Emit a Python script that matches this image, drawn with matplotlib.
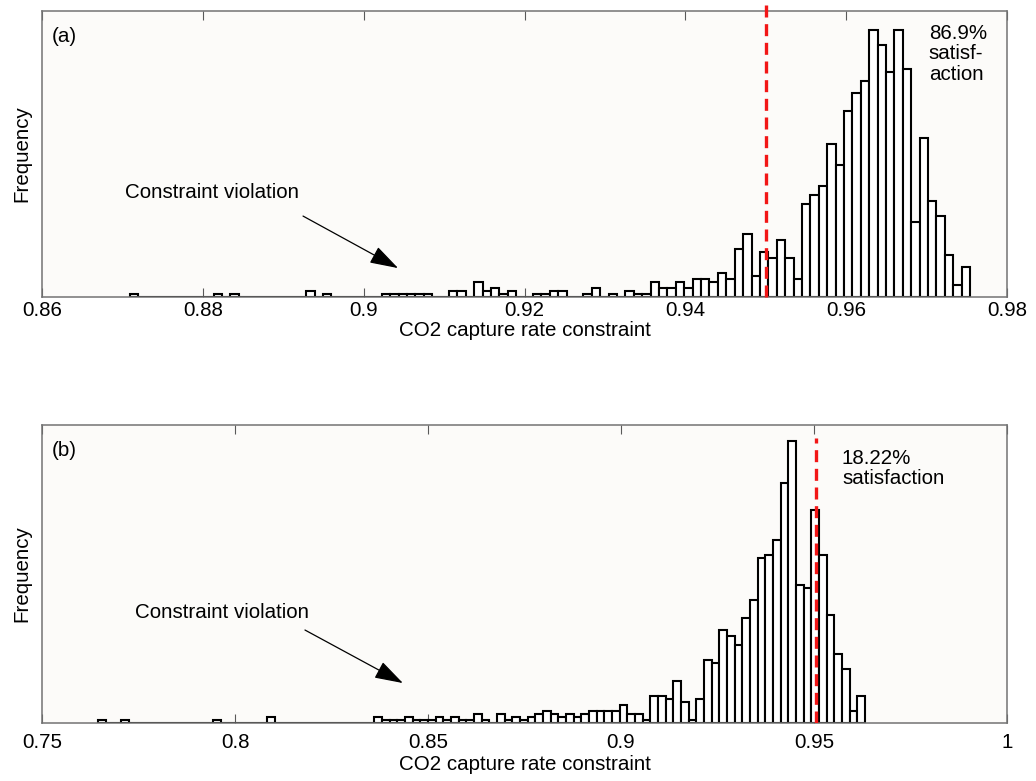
import numpy as np
import matplotlib
matplotlib.use("Agg")
import matplotlib.pyplot as plt

# histogram data (100 bins each)
top_range = (0.8709, 0.9754)
top_counts = [1, 0, 0, 0, 0, 0, 0, 0, 0, 0,
              1, 0, 1, 0, 0, 0, 0, 0, 0, 0,
              0, 2, 0, 1, 0, 0, 0, 0, 0, 0,
              1, 1, 1, 1, 1, 1, 0, 0, 2, 2,
              0, 5, 2, 3, 1, 2, 0, 0, 1, 1,
              2, 2, 0, 0, 1, 3, 0, 1, 0, 2,
              1, 1, 5, 3, 3, 5, 3, 6, 6, 5,
              8, 6, 16, 21, 7, 15, 13, 19, 13, 6,
              31, 34, 37, 51, 44, 62, 68, 72, 89, 84,
              75, 89, 76, 25, 53, 32, 27, 14, 4, 10]

bot_range = (0.7646, 0.9632)
bot_counts = [1, 0, 0, 1, 0, 0, 0, 0, 0, 0,
              0, 0, 0, 0, 0, 1, 0, 0, 0, 0,
              0, 0, 2, 0, 0, 0, 0, 0, 0, 0,
              0, 0, 0, 0, 0, 0, 2, 1, 1, 1,
              2, 1, 1, 1, 2, 1, 2, 1, 1, 3,
              1, 0, 3, 1, 2, 1, 2, 3, 4, 3,
              2, 3, 2, 3, 4, 4, 4, 4, 6, 3,
              3, 1, 9, 9, 8, 14, 7, 1, 8, 21,
              20, 31, 29, 26, 35, 41, 55, 56, 61, 80,
              94, 46, 45, 71, 56, 36, 23, 18, 4, 9]

top_ticks = [0.86, 0.88, 0.90, 0.92, 0.94, 0.96, 0.98]
top_ticklabels = ["0.86", "0.88", "0.9", "0.92", "0.94", "0.96", "0.98"]
bot_ticks = [0.75, 0.80, 0.85, 0.90, 0.95, 1.0]
bot_ticklabels = ["0.75", "0.8", "0.85", "0.9", "0.95", "1"]

top_limit = 0.95
bot_limit = 0.9505
top_note = "86.9%\nsatisf-\naction"
bot_note = "18.22%\nsatisfaction"


plt.rcParams['font.family'] = ['Liberation Sans', 'DejaVu Sans']
plt.rcParams['font.size'] = 14.8

fig = plt.figure(figsize=(10.36, 7.81), dpi=100)

ax1 = fig.add_axes([42/1036., 1 - 297/781., 965/1036., 286/781.])
ax2 = fig.add_axes([42/1036., 1 - 723/781., 965/1036., 298/781.])


def draw_hist(ax, rng, counts):
    edges = np.linspace(rng[0], rng[1], len(counts) + 1)
    ax.bar(edges[:-1], counts, width=np.diff(edges), align="edge",
           facecolor="white", edgecolor="black", linewidth=1.5, zorder=2)


def style_axes(ax, xlim, ylim, ticks, labels, pad, lpad):
    ax.set_facecolor("#fcfbf9")
    ax.set_xlim(xlim)
    ax.set_ylim(ylim)
    ax.set_xticks(ticks)
    ax.set_xticklabels(labels)
    ax.set_yticks([])
    ax.tick_params(axis="x", direction="in", top=True, length=6.5,
                   width=0.8, color="0.35", pad=pad)
    for s in ax.spines.values():
        s.set_color("0.45")
        s.set_linewidth(1.1)
    ax.set_ylabel("Frequency", labelpad=8)
    ax.set_xlabel("CO2 capture rate constraint", labelpad=lpad)


def arrow(ax, head, tail):
    ax.annotate("", xy=head, xytext=tail,
                xycoords="axes fraction", textcoords="axes fraction",
                arrowprops=dict(arrowstyle="-|>,head_length=1.2,head_width=0.38",
                                color="black", lw=0.9, shrinkA=0, shrinkB=0))


draw_hist(ax1, top_range, top_counts)
style_axes(ax1, (0.86, 0.98), (0, 95.3), top_ticks, top_ticklabels, 3, 0.5)
ax1.plot([top_limit, top_limit], [0, 97.3], color="#f21616", lw=2.4,
         dashes=(3.6, 2.0), clip_on=False, zorder=3)
ax1.text(0.0105, 0.91, "(a)", transform=ax1.transAxes, va="center")
ax1.text(0.919, 0.955, top_note, transform=ax1.transAxes, va="top",
         linespacing=1.1)
ax1.text(0.086, 0.367, "Constraint violation", transform=ax1.transAxes,
         va="center")
arrow(ax1, (0.369, 0.101), (0.2705, 0.283))

draw_hist(ax2, bot_range, bot_counts)
style_axes(ax2, (0.75, 1.0), (0, 99.3), bot_ticks, bot_ticklabels, 7, 2)
ax2.plot([bot_limit, bot_limit], [0, 95], color="#f21616", lw=2.4,
         dashes=(3.6, 2.0), zorder=3)
ax2.text(0.0105, 0.915, "(b)", transform=ax2.transAxes, va="center")
ax2.text(0.829, 0.92, bot_note, transform=ax2.transAxes, va="top",
         linespacing=1.1)
ax2.text(0.0964, 0.372, "Constraint violation", transform=ax2.transAxes,
         va="center")
arrow(ax2, (0.374, 0.134), (0.2725, 0.312))

fig.savefig("out.png", dpi=100)
